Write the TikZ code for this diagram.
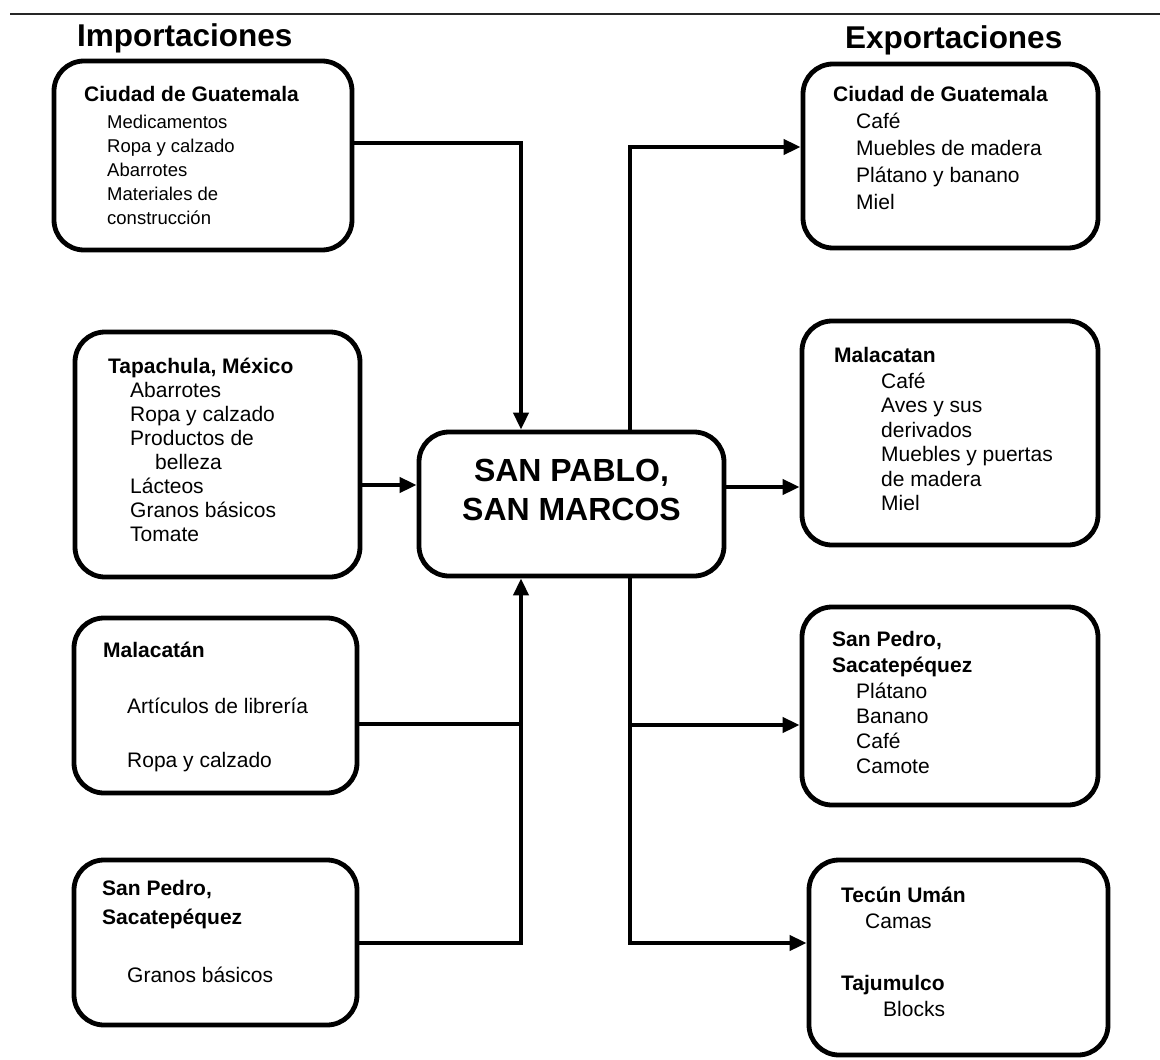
\documentclass[tikz,border=0pt]{standalone}
\usepackage{fontspec}
\setmainfont{Liberation Sans}
\usetikzlibrary{arrows.meta}
\tikzset{
  x=1pt, y=-1pt,
  box/.style={draw, line width=4.8pt, rounded corners=30pt, inner sep=0pt},
  hd/.style={anchor=base west, inner sep=0pt, font=\bfseries\fontsize{21}{24}\selectfont},
  it/.style={anchor=base west, inner sep=0pt, font=\fontsize{21}{24}\selectfont},
  its/.style={anchor=base west, inner sep=0pt, font=\fontsize{18.5}{22}\selectfont},
  ttl/.style={anchor=base west, inner sep=0pt, font=\bfseries\fontsize{31.5}{36}\selectfont},
  ctr/.style={anchor=base, inner sep=0pt, font=\bfseries\fontsize{32}{36}\selectfont},
  conn/.style={line width=4pt},
  arr/.style={line width=4pt, -{Triangle[length=17pt,width=15pt]}},
}
\begin{document}
\begin{tikzpicture}
\useasboundingbox (0,0) rectangle (1160,1060);
% top rule
\coordinate (r0) at (10,14);
\coordinate (r1) at (1160,14);
\draw[line width=2pt, black!85] (r0) -- (r1);
% titles
\node[ttl] (timp) at (77,46) {Importaciones};
\node[ttl] (texp) at (845,48) {Exportaciones};
% boxes
\node[box, minimum width=298pt, minimum height=189pt] (L1) at (203,155.5) {};
\node[box, minimum width=285pt, minimum height=245pt] (L2) at (217.5,454.5) {};
\node[box, minimum width=283pt, minimum height=175pt] (L3) at (215.5,705.5) {};
\node[box, minimum width=283pt, minimum height=165pt] (L4) at (215.5,942.5) {};
\node[box, minimum width=305pt, minimum height=144pt] (C) at (571.5,504) {};
\node[box, minimum width=295pt, minimum height=184pt] (R1) at (950.5,156) {};
\node[box, minimum width=296pt, minimum height=224pt] (R2) at (950,433) {};
\node[box, minimum width=296pt, minimum height=198pt] (R3) at (950,706) {};
\node[box, minimum width=299pt, minimum height=195pt] (R4) at (958.5,957.5) {};
% center text
\node[ctr] (c1) at (571.5,481) {SAN PABLO,};
\node[ctr] (c2) at (571.5,520) {SAN MARCOS};
% L1 text
\node[hd] (h1) at (84,101) {Ciudad de Guatemala};
\foreach \t [count=\i] in {Medicamentos, Ropa y calzado, Abarrotes, Materiales de, construcción}
  \node[its] (a\i) at (107,{128+24.2*(\i-1)}) {\t};
% L2 text
\node[hd] (h2) at (108,373) {Tapachula, México};
\foreach \t [count=\i] in {Abarrotes, Ropa y calzado, Productos de, , Lácteos, Granos básicos, Tomate}
  \node[it] (b\i) at (130,{397+24*(\i-1)}) {\t};
\node[it] (b4x) at (155,469) {belleza};
% L3 text
\node[hd] (h3) at (103,657) {Malacatán};
\node[it] (d1) at (127,713) {Artículos de librería};
\node[it] (d2) at (127,767) {Ropa y calzado};
% L4 text
\node[hd] (h4a) at (102,895) {San Pedro,};
\node[hd] (h4b) at (102,924) {Sacatepéquez};
\node[it] (e1) at (127,982) {Granos básicos};
% R1 text
\node[hd] (g1) at (833,101) {Ciudad de Guatemala};
\foreach \t [count=\i] in {Café, Muebles de madera, Plátano y banano, Miel}
  \node[it] (f\i) at (856,{128+27*(\i-1)}) {\t};
% R2 text
\node[hd] (g2) at (834,362) {Malacatan};
\foreach \t [count=\i] in {Café, Aves y sus, derivados, Muebles y puertas, de madera, Miel}
  \node[it] (m\i) at (881,{388+24.5*(\i-1)}) {\t};
% R3 text
\node[hd] (g3a) at (832,646) {San Pedro,};
\node[hd] (g3b) at (832,672) {Sacatepéquez};
\foreach \t [count=\i] in {Plátano, Banano, Café, Camote}
  \node[it] (p\i) at (856,{698+25*(\i-1)}) {\t};
% R4 text
\node[hd] (g4a) at (841,902) {Tecún Umán};
\node[it] (q1) at (865,928) {Camas};
\node[hd] (g4b) at (841,990) {Tajumulco};
\node[it] (q2) at (883,1016) {Blocks};
% junctions
\coordinate (j1) at (521,143);
\coordinate (ja) at (521,485);
\coordinate (j3) at (521,724);
\coordinate (j4) at (521,943);
\coordinate (k1) at (630,147);
\coordinate (kb) at (630,487);
\coordinate (k3) at (630,725);
\coordinate (k4) at (630,943);
% import connectors
\draw[arr] (L1.east |- j1) -- (j1) -- (C.north -| j1);
\draw[arr] (L2.east |- ja) -- (C.west |- ja);
\draw[conn] (L3.east |- j3) -- (j3);
\draw[arr] (L4.east |- j4) -- (j4) -- (C.south -| j4);
% export connectors
\draw[arr] (C.north -| k1) -- (k1) -- (R1.west |- k1);
\draw[arr] (C.east |- kb) -- (R2.west |- kb);
\draw[arr] (C.south -| k4) -- (k4) -- (R4.west |- k4);
\draw[arr] (k3) -- (R3.west |- k3);
\end{tikzpicture}
\end{document}
